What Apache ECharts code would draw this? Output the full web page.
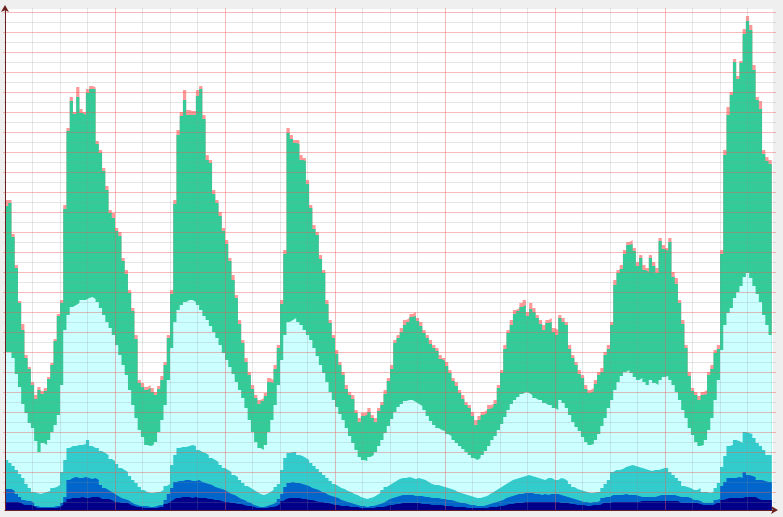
<!DOCTYPE html>
<html><head><meta charset="utf-8">
<script src="https://cdn.jsdelivr.net/npm/echarts@6/dist/echarts.min.js"></script>
<style>html,body{margin:0;padding:0;background:#efefef}#c{width:783px;height:517px}</style>
</head><body><div id="c"></div>
<script>
// 237 periods, 34 per cycle (7 cycles = 238 slots on the axis)
const SLOTS = 238;
const PERIODS_PER_CYCLE = 34;
// Stack levels (height of each layer's top above the axis)
const levelTotal = [
310,310,276,245,209,186,155,143,128,115,
123,119,122,133,147,171,196,210,305,382,
413,398,423,401,398,421,424,423,369,360,
342,324,300,297,282,278,252,240,220,202,
175,130,127,123,125,122,118,124,134,148,
175,220,310,380,398,420,400,399,399,420,
424,395,355,350,320,310,298,282,270,252,
235,215,190,170,152,138,125,115,110,112,
117,132,130,145,165,210,260,382,375,370,
370,355,352,330,305,285,278,255,240,210,
190,175,160,148,138,125,118,115,100,92,
97,98,102,95,92,102,108,120,132,145,
170,175,182,190,192,196,198,192,188,180,
175,170,165,162,155,152,148,140,132,128,
120,115,108,105,98,90,94,98,100,105,
106,110,125,140,165,180,190,200,202,207,
210,198,207,202,195,190,185,190,192,182,
180,195,192,188,165,155,148,140,135,125,
120,122,130,138,142,158,165,188,230,240,
245,260,268,270,262,248,255,245,242,255,
248,242,272,265,262,272,238,232,210,190,
165,138,122,118,114,118,120,138,145,160,
165,260,360,403,418,451,434,449,481,494,
485,445,413,409,360,353,350];
// thickness of the thin top (pink) layer
const pinkLayer = [
6,3,3,3,2,6,3,2,3,4, 3,3,3,2,2,2,2,3,4,3, 4,2,10,4,3,4,3,2,3,3, 3,4,3,5,3,4,3,4,3,3,
4,3,4,3,3,4,3,3,4,3, 3,4,4,5,4,10,5,4,4,6, 3,4,5,3,4,3,4,3,4,3, 5,3,4,3,4,3,4,3,4,3,
3,4,3,4,3,4,4,5,4,3, 4,5,3,4,3,4,3,4,3,4, 3,3,4,3,3,4,3,4,3,4, 3,3,4,3,4,3,3,4,3,4,
3,3,4,5,4,3,4,3,4,3, 3,4,3,3,4,3,4,3,3,4, 3,4,3,3,4,5,4,3,3,4, 3,4,3,3,4,3,5,4,3,4,
5,4,6,4,3,4,5,3,4,4, 5,3,4,3,4,3,3,4,3,4, 3,3,4,3,4,3,4,3,5,3, 4,4,3,4,3,4,3,5,4,3,
4,5,3,4,3,4,5,6,3,4, 3,4,3,3,4,3,4,3,4,3, 4,4,5,8,3,3,3,2,5,5, 5,5,3,8,4,4,4];
const levelCyan = [
158,158,152,136,123,106,97,87,82,69,
58,67,65,70,78,85,95,125,180,195,
203,205,207,210,210,212,213,211,208,202,
195,188,182,175,165,155,145,135,120,105,
92,80,73,65,64,65,68,78,90,105,
130,162,188,200,205,208,210,210,208,205,
200,194,190,184,178,172,165,157,150,143,
136,128,120,112,102,90,78,68,62,60,
65,78,90,105,125,150,175,188,190,192,
188,185,180,175,170,162,154,145,137,128,
118,110,103,96,90,82,74,67,60,53,
50,49,53,55,58,64,70,77,84,91,
98,103,106,109,110,110,108,106,104,100,
94,89,85,82,80,79,76,74,70,67,
64,61,58,55,52,50,52,55,59,64,
70,74,80,86,93,100,106,110,113,116,
118,117,115,112,110,110,107,105,105,102,
100,110,107,102,95,88,83,79,73,68,
65,66,70,76,84,92,102,110,120,128,
134,138,140,137,133,130,132,128,125,130,
127,125,130,133,134,130,125,118,110,100,
92,82,75,68,64,65,70,80,92,110,
130,160,185,197,202,212,218,224,233,237,
232,224,216,208,195,185,175];
const levelTeal = [
50,47,44,40,36,32,26,22,18,17,
16,17,18,19,22,23,25,38,50,62,
64,64,65,65,66,70,64,62,62,59,
57,55,51,49,46,42,40,38,34,30,
27,23,20,18,17,17,18,18,20,24,
26,45,55,62,63,63,64,65,64,60,
58,57,55,52,50,48,45,42,40,38,
35,33,30,27,24,22,20,18,16,15,
16,18,20,23,26,40,52,57,58,58,
55,54,52,50,47,44,41,38,35,32,
29,26,24,22,21,19,18,16,15,13,
12,11,12,13,15,17,20,23,25,27,
29,31,32,32,33,32,31,32,31,30,
28,26,25,25,24,23,22,21,20,18,
17,16,15,14,13,12,12,13,14,16,
18,20,22,24,26,28,30,31,32,33,
34,35,34,33,32,31,30,32,32,30,
30,32,31,29,26,23,21,20,19,18,
17,17,18,18,22,26,30,38,40,40,
41,43,44,45,44,43,42,41,40,39,
40,40,41,42,42,38,35,32,29,24,
23,22,20,20,22,18,18,17,18,22,
27,43,54,64,65,70,69,67,78,77,
76,72,67,64,60,55,55];
const levelBlue = [
21,21,19,16,13,10,9,9,7,4,
3,3,3,3,3,4,4,7,13,30,
32,33,32,32,33,32,31,32,30,25,
22,20,18,16,14,12,11,10,8,6,
5,4,4,4,3,3,4,5,5,10,
16,22,28,29,29,30,30,29,29,30,
28,27,26,25,23,22,21,20,18,16,
15,13,11,10,8,7,5,4,3,3,
4,5,6,8,11,16,23,27,28,27,
27,26,25,24,22,21,20,18,17,15,
14,13,12,10,9,8,7,6,5,4,
4,3,4,4,5,6,7,9,11,12,
13,14,15,15,15,15,14,14,14,13,
13,12,12,12,11,11,10,10,9,8,
7,7,6,5,5,4,4,4,5,6,
7,8,9,10,12,13,14,15,16,16,
17,17,17,16,16,15,16,15,16,16,
16,15,14,13,12,11,10,9,8,8,
7,8,8,9,12,13,13,15,15,15,
15,16,15,15,15,14,13,13,13,13,
13,14,15,15,15,15,15,14,13,13,
13,12,10,10,9,7,7,7,7,10,
11,24,28,32,32,32,33,32,38,35,
34,33,30,30,29,28,28];
const levelNavy = [
8,8,8,8,7,5,5,5,4,2,
2,2,2,2,2,2,3,5,8,11,
12,12,12,13,12,12,13,13,13,11,
11,11,10,8,8,7,7,7,5,4,
3,3,2,2,2,2,2,3,3,6,
8,10,12,12,13,13,13,12,13,12,
12,12,11,11,10,10,9,8,8,7,
7,6,6,5,4,4,3,2,2,2,
2,3,3,4,6,9,11,12,12,12,
12,11,11,10,10,9,8,8,7,7,
6,5,5,4,4,4,3,3,3,2,
2,2,2,2,3,3,3,4,5,5,
6,6,7,7,7,7,7,7,6,6,
6,5,5,5,5,4,4,4,3,3,
3,3,2,2,2,2,2,2,2,3,
3,3,4,4,5,6,6,7,7,7,
8,8,8,8,8,8,8,8,8,8,
8,7,7,7,6,6,5,5,5,4,
4,5,5,5,7,7,7,8,8,8,
8,8,8,8,8,8,9,9,9,9,
9,9,9,9,9,9,9,9,7,7,
7,7,7,7,6,5,5,5,5,7,
7,10,11,12,12,12,12,12,13,13,
13,13,11,10,10,10,10];

const levelGreen = levelTotal.map((v,i) => v - pinkLayer[i]);
// bottom -> top
const levels = [levelNavy, levelBlue, levelTeal, levelCyan, levelGreen, levelTotal];
const colors = ['#00008b','#0066cc','#33cccc','#ccffff','#33cc99','#ff9999'];

const RED = 'rgba(232,90,90,0.42)';
const GRAY = 'rgba(140,140,140,0.22)';
const AXIS = '#6b1f1f';

// plot area 5..773 px while 238 slots span 5..775 px
const X_MAX = SLOTS * 768 / 770;

const series = [];
for (let k = levels.length - 1; k >= 0; k--) {
  const arr = levels[k];
  series.push({
    type:'line', xAxisIndex:0, yAxisIndex:0, step:'end',
    symbol:'none', showSymbol:false, silent:true, z:2,
    lineStyle:{width:0}, areaStyle:{color:colors[k], opacity:1, origin:'start'},
    data: arr.map((v,i) => [i, v]).concat([[arr.length, arr[arr.length-1]]])
  });
}

const noAxisParts = {axisLine:{show:false}, axisTick:{show:false}, axisLabel:{show:false}};
const chart = echarts.init(document.getElementById('c'));
chart.setOption({
  animation: false,
  backgroundColor: '#efefef',
  grid: [
    {left:5, right:10, top:9, bottom:7, show:true, backgroundColor:'#ffffff', borderWidth:0},
    {left:5, width:770, top:8, bottom:7, show:false},
    {left:3, right:7, top:12, height:500, show:false}
  ],
  xAxis: [
    {gridIndex:0, type:'value', min:0, max:X_MAX, z:4,
     axisLine:{show:true, onZero:false, lineStyle:{color:AXIS, width:1}, symbol:['none','arrow'], symbolSize:[6,7], symbolOffset:[0,5]},
     axisTick:{show:false}, axisLabel:{show:false}, splitLine:{show:false}},
    Object.assign({gridIndex:1, type:'value', min:0, max:SLOTS/PERIODS_PER_CYCLE, interval:1, z:3,
     splitLine:{show:true, showMinLine:false, showMaxLine:false, lineStyle:{color:RED, width:1}},
     minorTick:{show:false, splitNumber:4},
     minorSplitLine:{show:true, lineStyle:{color:GRAY, width:1}}}, noAxisParts),
    {gridIndex:2, type:'value', min:0, max:1, show:false}
  ],
  yAxis: [
    {gridIndex:0, type:'value', min:0, max:501, z:4,
     axisLine:{show:true, onZero:false, lineStyle:{color:AXIS, width:1}, symbol:['none','arrow'], symbolSize:[6,7], symbolOffset:[0,4]},
     axisTick:{show:false}, axisLabel:{show:false}, splitLine:{show:false}},
    {gridIndex:1, type:'value', min:0, max:1, show:false},
    Object.assign({gridIndex:2, type:'value', min:0, max:25, interval:1, z:3,
     splitLine:{show:true, showMinLine:false, showMaxLine:true, lineStyle:{color:RED, width:1}},
     minorTick:{show:false, splitNumber:2},
     minorSplitLine:{show:true, lineStyle:{color:GRAY, width:1}}}, noAxisParts)
  ],
  series: series
});
</script>
</body></html>
